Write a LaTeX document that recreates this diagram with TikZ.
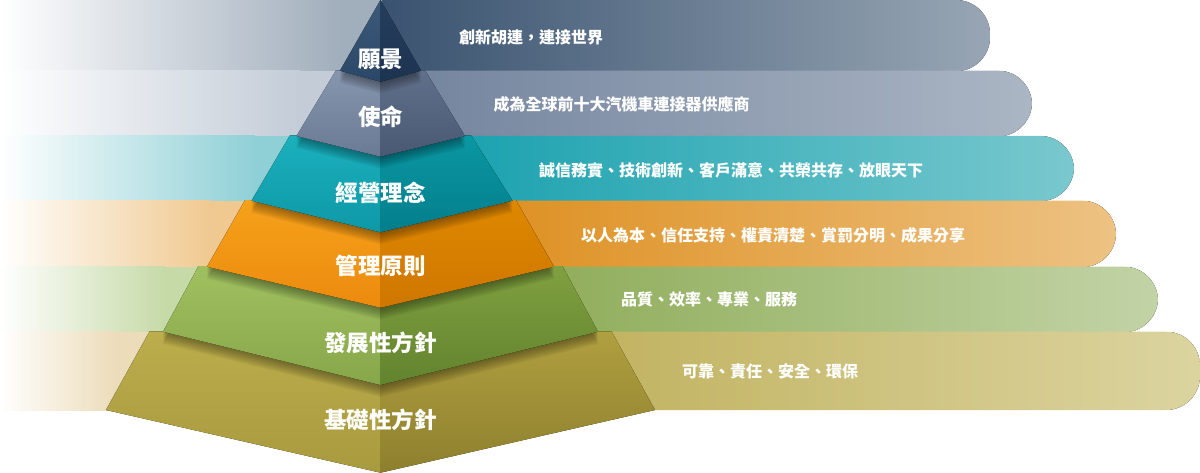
\documentclass[tikz,border=0pt]{standalone}
\usepackage{fontspec}
\newfontfamily\cjk{Noto Sans CJK TC}
\newcommand\hcol[2]{\definecolor{#1}{HTML}{#2}}
\hcol{Lone}{A1AEBC}\hcol{Ltwo}{C3CCD7}\hcol{Lthree}{8FD0D6}
\hcol{Lfour}{F0C991}\hcol{Lfive}{C6DAA8}\hcol{Lsix}{ECDCBA}
\hcol{Raa}{39526F}\hcol{Rab}{98A6B4}
\hcol{Rba}{71829C}\hcol{Rbb}{ABB6C4}
\hcol{Rca}{0F9DAB}\hcol{Rcb}{79C8CE}
\hcol{Rda}{DB8710}\hcol{Rdb}{EDC283}
\hcol{Rea}{82A346}\hcol{Reb}{C2D3A6}
\hcol{Rfa}{B7A74A}\hcol{Rfb}{DCD4A0}
\hcol{Taa}{3D5A7A}\hcol{Tab}{2B4767}\hcol{Tac}{243E5C}\hcol{Tad}{1D3451}
\hcol{Tba}{8696AE}\hcol{Tbb}{6A7A94}\hcol{Tbc}{61708A}\hcol{Tbd}{4A5973}
\hcol{Tca}{1BB0BD}\hcol{Tcb}{0E98A6}\hcol{Tcc}{0A97A3}\hcol{Tcd}{047E8B}
\hcol{Tda}{F5A11B}\hcol{Tdb}{EC8A0D}\hcol{Tdc}{DE8800}\hcol{Tdd}{CF7600}
\hcol{Tea}{A0C060}\hcol{Teb}{86A64A}\hcol{Tec}{80A040}\hcol{Ted}{62832E}
\hcol{Tfa}{BCAE4C}\hcol{Tfb}{A89A3E}\hcol{Tfc}{B0A040}\hcol{Tfd}{8E7F2E}
\newcommand\lbandx[4]{%
  \fill[left color=white,right color=#4] (0,#1) rectangle (#3,#2);
  \fill[#4] (#3-0.5,#1) rectangle (382,#2);}
\newcommand\rbandx[5]{%
  \begin{scope}
    \clip (378,#1) rectangle (#3-40,#2) [rounded corners=34] (#3-120,#1) rectangle (#3,#2);
    \fill[left color=#4,right color=#5] (378,#1) rectangle (#3,#2);
  \end{scope}}
\newcommand\tierx[7]{%
  \begin{scope}
    \clip #1;
    \fill[top color=#4,bottom color=#5] (0,#2) rectangle (380.5,#3);
    \fill[top color=#6,bottom color=#7] (380.5,#2) rectangle (700,#3);
  \end{scope}}
\newcommand\shadx[2]{%
  \begin{scope}
    \clip #1;
    \foreach \k in {1,...,7}{\fill[black,opacity=0.06,shift={(0,1.7*\k)}] #2;}
  \end{scope}}
\def\PA{(380.5,0) -- (421,70.7) -- (380.5,81.7) -- (340,70.7) -- cycle}
\def\PB{(336,70.3) -- (425,70.3) -- (465,136) -- (380.5,156.7) -- (296.5,136) -- cycle}
\def\PC{(290,135.3) -- (471,135.3) -- (512.5,200.7) -- (380.5,232.3) -- (251.5,200.7) -- cycle}
\def\PD{(245,200.2) -- (516,200.2) -- (554,266.7) -- (380.5,307.7) -- (207,266.7) -- cycle}
\def\PE{(198.5,266.2) -- (562.5,266.2) -- (598,331.7) -- (380.5,385) -- (163,331.7) -- cycle}
\def\PF{(149.5,331.4) -- (611.5,331.4) -- (655,410) -- (380.5,472.7) -- (106,410) -- cycle}
\begin{document}
\begin{tikzpicture}[x=1pt,y=-1pt,
  lbl/.style={text=white,font=\cjk\bfseries\fontsize{22.5}{22.5}\selectfont,inner sep=0pt},
  btxt/.style={text=white,font=\cjk\bfseries\fontsize{16}{16}\selectfont,anchor=west,inner sep=0pt}]
\useasboundingbox (0,0) rectangle (1200,473);
% right bands
\rbandx{0}{71.2}{990}{Raa}{Rab}
\rbandx{70.7}{136.4}{1032}{Rba}{Rbb}
\rbandx{135.9}{201.2}{1074}{Rca}{Rcb}
\rbandx{200.7}{267.2}{1116}{Rda}{Rdb}
\rbandx{266.7}{332.2}{1158}{Rea}{Reb}
\rbandx{331.7}{410}{1200}{Rfa}{Rfb}
% left bands
\lbandx{0}{71.2}{340}{Lone}
\lbandx{70.7}{136.4}{300}{Ltwo}
\lbandx{135.9}{201.2}{255}{Lthree}
\lbandx{200.7}{267.2}{210}{Lfour}
\lbandx{266.7}{332.2}{165}{Lfive}
\lbandx{331.7}{410}{115}{Lsix}
% pyramid, bottom to top
\tierx{\PF}{331}{473}{Tfa}{Tfb}{Tfc}{Tfd}
\shadx{\PF}{\PE}
\tierx{\PE}{266}{386}{Tea}{Teb}{Tec}{Ted}
\shadx{\PE}{\PD}
\tierx{\PD}{200}{308}{Tda}{Tdb}{Tdc}{Tdd}
\shadx{\PD}{\PC}
\tierx{\PC}{135}{233}{Tca}{Tcb}{Tcc}{Tcd}
\shadx{\PC}{\PB}
\tierx{\PB}{70}{157}{Tba}{Tbb}{Tbc}{Tbd}
\shadx{\PB}{\PA}
\tierx{\PA}{0}{82}{Taa}{Tab}{Tac}{Tad}
% labels
\node[lbl] (t1) at (380.5,59) {願景};
\node[lbl] (t2) at (380.5,117) {使命};
\node[lbl] (t3) at (380.5,193) {經營理念};
\node[lbl] (t4) at (380.5,266) {管理原則};
\node[lbl] (t5) at (380.5,343) {發展性方針};
\node[lbl] (t6) at (380.5,420) {基礎性方針};
% band texts
\node[btxt] (b1) at (459,37) {創新胡連，連接世界};
\node[btxt] (b2) at (493.5,104) {成為全球前十大汽機車連接器供應商};
\node[btxt] (b3) at (539,170) {誠信務實、技術創新、客戶滿意、共榮共存、放眼天下};
\node[btxt] (b4) at (581,235) {以人為本、信任支持、權責清楚、賞罰分明、成果分享};
\node[btxt] (b5) at (621,299.5) {品質、效率、專業、服務};
\node[btxt] (b6) at (682,371) {可靠、責任、安全、環保};
\end{tikzpicture}
\end{document}
